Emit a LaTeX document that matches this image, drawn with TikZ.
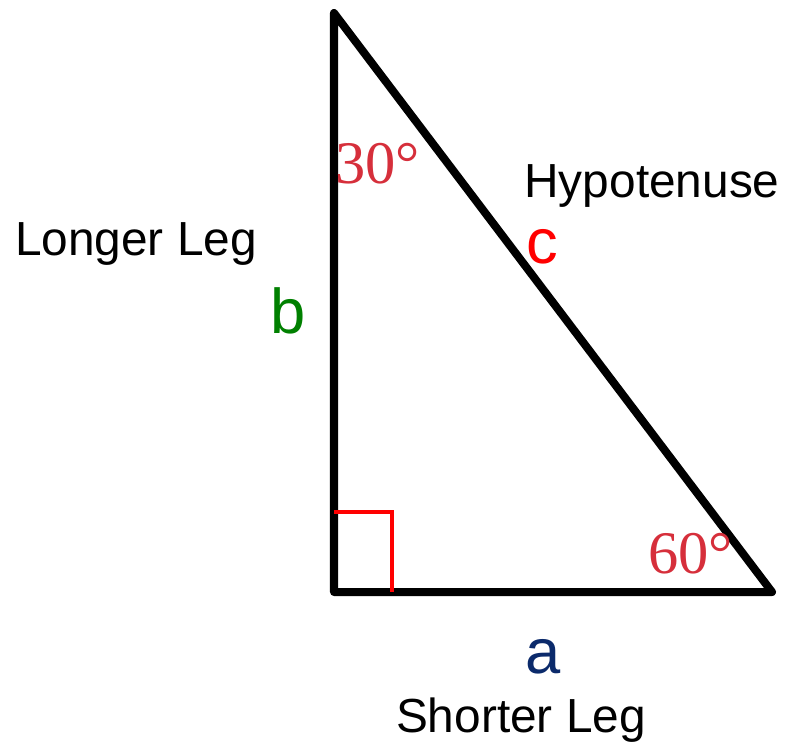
\documentclass[tikz,border=0pt]{standalone}
\usepackage{fontspec,xcolor}
\setmainfont{Liberation Sans}
\newfontfamily\degfont{Liberation Serif}
\usetikzlibrary{positioning,calc}
\definecolor{angred}{HTML}{D62F3B}
\definecolor{hypred}{HTML}{FF0000}
\definecolor{leggreen}{HTML}{008000}
\definecolor{legnavy}{HTML}{0B2A6B}
\tikzset{side/.style={line width=5.7pt,line join=round,line cap=round},lab/.style={anchor=base,inner sep=0pt,font=\fontsize{34}{38}\selectfont},let/.style={anchor=base,inner sep=0pt,font=\fontsize{45}{50}\selectfont},deg/.style={anchor=base west,inner sep=0pt,text=angred,font=\degfont\fontsize{43}{47}\selectfont}}
\begin{document}
\begin{tikzpicture}[x=0.025cm,y=-0.025cm]
\useasboundingbox (0,0) rectangle (786,746);
\coordinate (top) at (334,13);
\coordinate (rt) at (334,592);
\coordinate (bot) at (772,592);
\coordinate (sq) at (392,512);
\draw[side] (top)--(rt)--(bot)--cycle;
\draw[hypred,line width=2.6pt] (rt|-sq)--(sq)--(sq|-rt);
\node[deg] (d30) at (335,183) {30°};
\node[deg] (d60) at (648,573) {60°};
\node[lab] (hyp) at (652,197) {Hypotenuse};
\node[lab] (long) at (136,255) {Longer Leg};
\node[lab] (short) at (521,732) {Shorter Leg};
\node[let,text=hypred] (c) at (542,263) {c};
\node[let,text=leggreen] (b) at (288,333) {b};
\node[let,text=legnavy] (a) at (543,673) {a};
\end{tikzpicture}
\end{document}
